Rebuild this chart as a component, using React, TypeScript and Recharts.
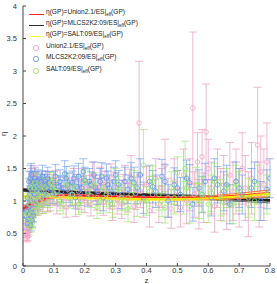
import { ComposedChart, Scatter, Line, XAxis, YAxis, ErrorBar } from 'recharts'

// [z, eta, err]
const union21: number[][] = [
  [0.011, 0.5, 0.06], [0.013, 0.42, 0.05], [0.014, 0.62, 0.07], [0.015, 0.45, 0.06], [0.016, 0.52, 0.07],
  [0.017, 0.75, 0.08], [0.018, 0.6, 0.08], [0.019, 0.55, 0.07], [0.02, 0.7, 0.08], [0.021, 0.82, 0.1],
  [0.022, 0.95, 0.1], [0.023, 1.3, 0.15], [0.024, 1.05, 0.12], [0.025, 1.2, 0.12], [0.026, 0.88, 0.1],
  [0.027, 0.68, 0.08], [0.028, 1.1, 0.12], [0.029, 1.35, 0.15], [0.03, 0.78, 0.1], [0.031, 1.15, 0.13],
  [0.032, 1.0, 0.12], [0.033, 0.85, 0.1], [0.034, 1.25, 0.15], [0.035, 1.05, 0.12], [0.036, 0.92, 0.12],
  [0.037, 1.38, 0.16], [0.038, 1.15, 0.14], [0.039, 0.9, 0.11], [0.04, 0.98, 0.12], [0.042, 1.12, 0.13],
  [0.043, 1.3, 0.15], [0.045, 1.05, 0.14], [0.047, 1.2, 0.14], [0.048, 0.9, 0.12], [0.05, 1.18, 0.14],
  [0.052, 1.28, 0.15], [0.053, 1.0, 0.13], [0.056, 1.22, 0.15], [0.058, 0.98, 0.14], [0.06, 1.1, 0.14],
  [0.063, 0.95, 0.14], [0.066, 1.25, 0.15], [0.068, 1.15, 0.15], [0.07, 1.05, 0.15], [0.075, 1.15, 0.15],
  [0.078, 1.3, 0.16], [0.08, 0.98, 0.15], [0.085, 1.2, 0.16], [0.088, 1.0, 0.15], [0.09, 1.08, 0.15],
  [0.095, 1.25, 0.16], [0.1, 1.12, 0.16], [0.105, 1.3, 0.17], [0.11, 0.95, 0.15], [0.12, 1.2, 0.17],
  [0.125, 1.08, 0.16], [0.13, 1.05, 0.16], [0.14, 0.9, 0.15], [0.145, 1.18, 0.17], [0.15, 1.25, 0.18],
  [0.16, 1.1, 0.17], [0.165, 1.32, 0.18], [0.17, 0.92, 0.16], [0.18, 1.15, 0.18], [0.185, 1.05, 0.18],
  [0.19, 1.3, 0.2], [0.2, 1.0, 0.18], [0.205, 1.2, 0.19], [0.21, 1.12, 0.18], [0.22, 0.95, 0.18],
  [0.225, 1.4, 0.2], [0.23, 1.2, 0.2], [0.24, 1.05, 0.19], [0.245, 1.15, 0.2], [0.25, 1.3, 0.22],
  [0.26, 0.98, 0.2], [0.265, 1.25, 0.21], [0.27, 1.15, 0.2], [0.28, 1.08, 0.2], [0.285, 1.35, 0.22],
  [0.29, 0.9, 0.2], [0.3, 1.22, 0.22], [0.305, 1.02, 0.22], [0.31, 1.1, 0.22], [0.32, 0.95, 0.22],
  [0.325, 1.18, 0.23], [0.33, 1.3, 0.25], [0.34, 1.05, 0.22], [0.345, 1.25, 0.24], [0.35, 1.4, 0.3],
  [0.36, 0.92, 0.25], [0.365, 1.12, 0.25], [0.376, 2.2, 0.95], [0.38, 1.15, 0.25], [0.39, 1.0, 0.25],
  [0.4, 1.25, 0.28], [0.41, 0.85, 0.25], [0.42, 1.1, 0.28], [0.43, 1.35, 0.3], [0.44, 0.95, 0.28],
  [0.45, 1.2, 0.3], [0.46, 1.55, 0.4], [0.47, 1.05, 0.3], [0.48, 0.88, 0.3], [0.49, 1.3, 0.35],
  [0.5, 1.15, 0.32], [0.51, 0.9, 0.3], [0.52, 1.4, 0.4], [0.53, 1.0, 0.35], [0.54, 1.25, 0.4],
  [0.55, 2.43, 1.17], [0.555, 1.1, 0.35], [0.565, 1.6, 0.45], [0.57, 0.95, 0.38], [0.58, 1.68, 0.42],
  [0.585, 1.05, 0.38], [0.593, 2.06, 0.74], [0.6, 1.5, 0.45], [0.61, 1.2, 0.4], [0.62, 0.92, 0.4],
  [0.63, 1.35, 0.45], [0.64, 1.1, 0.4], [0.65, 1.25, 0.45], [0.66, 0.98, 0.42], [0.67, 1.4, 0.5],
  [0.68, 1.15, 0.45], [0.69, 1.3, 0.5], [0.7, 1.05, 0.45], [0.71, 1.5, 0.55], [0.72, 1.2, 0.5],
  [0.73, 0.95, 0.5], [0.74, 1.35, 0.55], [0.76, 1.86, 0.89], [0.765, 1.1, 0.5], [0.77, 1.45, 0.55],
  [0.78, 1.25, 0.55], [0.79, 1.6, 0.6],
]

const mlcs2k2: number[][] = [
  [0.011, 0.85, 0.1], [0.012, 0.75, 0.1], [0.014, 1.05, 0.12], [0.015, 0.65, 0.08], [0.016, 0.72, 0.09],
  [0.018, 0.9, 0.1], [0.019, 1.3, 0.16], [0.02, 1.2, 0.15], [0.021, 0.95, 0.11], [0.022, 0.8, 0.1],
  [0.023, 1.1, 0.14], [0.024, 1.35, 0.2], [0.025, 0.62, 0.08], [0.026, 1.0, 0.12], [0.027, 1.4, 0.18],
  [0.028, 1.15, 0.14], [0.029, 0.88, 0.1], [0.03, 0.7, 0.1], [0.031, 1.18, 0.14], [0.032, 1.28, 0.15],
  [0.033, 0.78, 0.1], [0.034, 1.3, 0.16], [0.035, 1.05, 0.13], [0.037, 1.1, 0.13], [0.038, 1.2, 0.14],
  [0.039, 1.35, 0.16], [0.04, 0.95, 0.12], [0.042, 1.2, 0.14], [0.043, 1.3, 0.15], [0.045, 0.98, 0.12],
  [0.046, 1.12, 0.14], [0.048, 1.32, 0.16], [0.05, 1.22, 0.15], [0.052, 1.15, 0.15], [0.055, 1.05, 0.14],
  [0.058, 1.25, 0.16], [0.06, 1.3, 0.16], [0.063, 1.38, 0.17], [0.065, 1.15, 0.15], [0.068, 1.1, 0.15],
  [0.07, 1.25, 0.16], [0.072, 1.3, 0.16], [0.075, 1.08, 0.15], [0.078, 1.2, 0.16], [0.08, 1.35, 0.17],
  [0.085, 1.28, 0.17], [0.09, 1.18, 0.16], [0.095, 1.12, 0.16], [0.1, 1.28, 0.17], [0.105, 1.38, 0.18],
  [0.11, 1.1, 0.16], [0.115, 1.22, 0.17], [0.12, 1.3, 0.18], [0.125, 1.15, 0.17], [0.13, 1.2, 0.17],
  [0.135, 1.42, 0.2], [0.14, 1.35, 0.18], [0.145, 1.25, 0.18], [0.15, 1.15, 0.17], [0.155, 1.1, 0.18],
  [0.16, 1.28, 0.18], [0.165, 1.35, 0.19], [0.17, 1.05, 0.17], [0.175, 1.22, 0.19], [0.18, 1.38, 0.2],
  [0.185, 1.12, 0.19], [0.19, 1.2, 0.18], [0.195, 1.45, 0.2], [0.2, 1.32, 0.2], [0.21, 1.1, 0.18],
  [0.215, 1.3, 0.2], [0.22, 1.25, 0.2], [0.23, 1.4, 0.2], [0.235, 1.2, 0.2], [0.24, 1.15, 0.2],
  [0.25, 1.3, 0.2], [0.255, 1.38, 0.21], [0.26, 1.05, 0.2], [0.27, 1.35, 0.22], [0.275, 1.25, 0.21],
  [0.28, 1.2, 0.2], [0.29, 1.12, 0.2], [0.295, 1.3, 0.22], [0.3, 1.4, 0.22], [0.31, 1.25, 0.22],
  [0.32, 1.1, 0.22], [0.33, 1.3, 0.22], [0.34, 1.18, 0.22], [0.35, 1.35, 0.24], [0.36, 1.28, 0.24],
  [0.37, 1.2, 0.24], [0.38, 1.4, 0.25], [0.39, 1.05, 0.24], [0.41, 1.3, 0.25], [0.42, 1.22, 0.25],
  [0.43, 1.15, 0.25], [0.45, 1.38, 0.26], [0.46, 1.3, 0.26], [0.47, 1.0, 0.25], [0.49, 1.25, 0.26],
  [0.5, 1.2, 0.27], [0.51, 1.1, 0.26], [0.53, 1.35, 0.28], [0.54, 1.28, 0.28], [0.55, 0.95, 0.26],
  [0.57, 1.2, 0.28], [0.58, 1.1, 0.28], [0.59, 1.3, 0.28], [0.61, 1.05, 0.28], [0.62, 1.35, 0.3],
  [0.63, 1.25, 0.28], [0.65, 1.15, 0.3], [0.66, 1.25, 0.3], [0.67, 0.95, 0.3], [0.69, 1.3, 0.3],
  [0.7, 1.2, 0.3], [0.71, 1.1, 0.3], [0.74, 1.2, 0.3], [0.75, 1.3, 0.3], [0.77, 1.0, 0.3],
  [0.79, 1.18, 0.3], [0.8, 1.35, 0.3],
]

const salt09: number[][] = [
  [0.012, 0.8, 0.1], [0.015, 0.7, 0.1], [0.018, 1.05, 0.12], [0.02, 0.95, 0.12], [0.022, 0.75, 0.1],
  [0.024, 1.2, 0.14], [0.025, 0.6, 0.08], [0.028, 1.1, 0.13], [0.03, 0.65, 0.08], [0.032, 0.85, 0.1],
  [0.034, 1.0, 0.12], [0.036, 1.2, 0.14], [0.038, 1.28, 0.15], [0.04, 1.0, 0.12], [0.042, 0.9, 0.12],
  [0.045, 1.15, 0.14], [0.048, 1.1, 0.13], [0.05, 0.92, 0.12], [0.052, 1.0, 0.13], [0.055, 1.25, 0.15],
  [0.058, 1.15, 0.14], [0.06, 1.05, 0.14], [0.065, 0.95, 0.14], [0.07, 1.2, 0.15], [0.075, 1.1, 0.15],
  [0.08, 0.98, 0.14], [0.085, 1.05, 0.15], [0.09, 1.28, 0.16], [0.095, 1.2, 0.15], [0.1, 1.1, 0.15],
  [0.11, 1.15, 0.16], [0.12, 1.0, 0.15], [0.13, 0.95, 0.15], [0.14, 1.25, 0.17], [0.15, 1.05, 0.16],
  [0.16, 1.1, 0.16], [0.17, 1.2, 0.17], [0.18, 0.95, 0.16], [0.19, 1.0, 0.17], [0.2, 1.3, 0.18],
  [0.21, 1.15, 0.18], [0.22, 1.08, 0.18], [0.23, 1.25, 0.19], [0.24, 0.9, 0.17], [0.25, 1.0, 0.19],
  [0.26, 1.2, 0.19], [0.27, 1.1, 0.19], [0.28, 1.0, 0.18], [0.29, 0.95, 0.2], [0.3, 1.3, 0.2],
  [0.31, 1.18, 0.2], [0.32, 1.05, 0.2], [0.33, 1.0, 0.21], [0.34, 0.88, 0.2], [0.35, 1.1, 0.22],
  [0.36, 1.25, 0.22], [0.37, 0.98, 0.22], [0.39, 1.55, 0.55], [0.4, 1.0, 0.22], [0.41, 1.15, 0.23],
  [0.42, 1.3, 0.24], [0.44, 1.1, 0.24], [0.45, 1.0, 0.24], [0.46, 0.9, 0.24], [0.48, 1.2, 0.25],
  [0.49, 1.05, 0.25], [0.5, 1.43, 0.25], [0.52, 1.05, 0.25], [0.525, 1.5, 0.42], [0.53, 1.2, 0.26],
  [0.54, 0.92, 0.26], [0.56, 1.25, 0.27], [0.57, 1.0, 0.27], [0.58, 1.1, 0.27], [0.6, 0.95, 0.28],
  [0.61, 1.12, 0.28], [0.62, 1.3, 0.28], [0.64, 1.05, 0.28], [0.65, 0.98, 0.29], [0.66, 1.2, 0.3],
  [0.68, 0.95, 0.3], [0.69, 1.25, 0.3], [0.7, 1.15, 0.3], [0.73, 1.05, 0.3], [0.75, 1.0, 0.3],
  [0.76, 1.25, 0.3], [0.79, 1.1, 0.3],
]

// GP reconstructions, sampled at curveZ
const curveZ = [0, 0.02, 0.04, 0.06, 0.08, 0.1, 0.15, 0.2, 0.3, 0.4, 0.5, 0.6, 0.7, 0.8]
const redMid = [0.88, 0.93, 0.98, 1.02, 1.05, 1.07, 1.08, 1.075, 1.06, 1.05, 1.04, 1.05, 1.08, 1.12]
const redHi = [0.92, 0.96, 1.01, 1.05, 1.08, 1.09, 1.1, 1.095, 1.08, 1.07, 1.065, 1.08, 1.12, 1.17]
const redLo = [0.84, 0.9, 0.95, 0.99, 1.02, 1.05, 1.06, 1.055, 1.04, 1.03, 1.02, 1.02, 1.04, 1.07]
const blackMid = [1.17, 1.165, 1.16, 1.155, 1.15, 1.145, 1.135, 1.125, 1.105, 1.09, 1.07, 1.05, 1.03, 1.01]
const blackHi = [1.19, 1.185, 1.18, 1.175, 1.17, 1.165, 1.155, 1.145, 1.13, 1.115, 1.1, 1.08, 1.065, 1.05]
const blackLo = [1.15, 1.145, 1.14, 1.135, 1.13, 1.125, 1.115, 1.105, 1.08, 1.065, 1.04, 1.02, 0.995, 0.97]
const yellowMid = [1.07, 1.07, 1.07, 1.07, 1.068, 1.065, 1.058, 1.05, 1.04, 1.03, 1.03, 1.04, 1.07, 1.11]
const yellowHi = [1.11, 1.11, 1.105, 1.1, 1.095, 1.09, 1.08, 1.07, 1.06, 1.05, 1.05, 1.065, 1.1, 1.15]
const yellowLo = [1.03, 1.03, 1.035, 1.04, 1.04, 1.04, 1.035, 1.03, 1.02, 1.01, 1.01, 1.015, 1.04, 1.07]

const xTicks = [0, 0.1, 0.2, 0.3, 0.4, 0.5, 0.6, 0.7, 0.8]
const yTicks = [0, 0.5, 1, 1.5, 2, 2.5, 3, 3.5, 4]

const pts = (rows: number[][]) => rows.map(([z, eta, err]) => ({ z, eta, err }))
const curve = (ys: number[]) => curveZ.map((z, i) => ({ z, eta: ys[i] }))

const PINK = '#f0a6c6'
const BLUE = '#5c95f2'
const GREEN = '#98e866'
const FONT = 'Liberation Sans, Arial, sans-serif'

const ring = (color: string) => (p: any) => (
  <circle cx={p.cx} cy={p.cy} r={2.3} fill="none" stroke={color} strokeWidth={0.8} />
)

const tickStyle = { fontSize: 7.5, fill: '#333', fontFamily: FONT }

const legendRows = [
  { kind: 'line', color: '#ff2020', name: 'Union2.1', prefix: 'η(GP)=' },
  { kind: 'line', color: '#333', name: 'MLCS2K2:09', prefix: 'η(GP)=' },
  { kind: 'line', color: '#ffff30', name: 'SALT:09', prefix: 'η(GP)=' },
  { kind: 'dot', color: PINK, name: 'Union2.1', prefix: '' },
  { kind: 'dot', color: BLUE, name: 'MLCS2K2:09', prefix: '' },
  { kind: 'dot', color: GREEN, name: 'SALT:09', prefix: '' },
]
const legendY = [14, 25, 36, 48, 59, 71]

export default function App() {
  return (
    <div style={{ position: 'absolute', left: 0, top: 0, width: 277, height: 284, background: '#fff' }}>
      <ComposedChart width={277} height={284} margin={{ top: 6, right: 7, bottom: 0, left: 0 }}>
        <XAxis
          xAxisId="b" type="number" dataKey="z" domain={[0, 0.8]} ticks={xTicks} allowDataOverflow
          tickSize={-3} tickMargin={5} height={18} stroke="#444" tick={tickStyle}
          label={{ value: 'z', position: 'insideBottom', offset: 1, style: { fontSize: 8, fill: '#333', fontFamily: FONT } }}
        />
        <XAxis
          xAxisId="t" orientation="top" type="number" dataKey="z" domain={[0, 0.8]} ticks={xTicks}
          allowDataOverflow tickSize={-3} height={0} stroke="#444" tickFormatter={() => ''}
        />
        <YAxis
          yAxisId="l" type="number" dataKey="eta" domain={[0, 4]} ticks={yTicks} allowDataOverflow
          tickSize={-3} tickMargin={9} width={23} stroke="#444" tick={tickStyle}
          label={{ value: 'η', angle: -90, position: 'insideLeft', offset: 3, style: { fontSize: 8, fill: '#333', fontFamily: FONT } }}
        />
        <YAxis
          yAxisId="r" orientation="right" type="number" dataKey="eta" domain={[0, 4]} ticks={yTicks}
          allowDataOverflow tickSize={-3} width={0} stroke="#444" tickFormatter={() => ''}
        />

        <Scatter xAxisId="b" yAxisId="l" data={pts(union21)} shape={ring(PINK)} isAnimationActive={false}>
          <ErrorBar dataKey="err" direction="y" width={4} stroke={PINK} strokeWidth={0.8} isAnimationActive={false} />
        </Scatter>
        <Scatter xAxisId="b" yAxisId="l" data={pts(mlcs2k2)} shape={ring(BLUE)} isAnimationActive={false}>
          <ErrorBar dataKey="err" direction="y" width={4} stroke={BLUE} strokeWidth={0.8} strokeOpacity={0.75} isAnimationActive={false} />
        </Scatter>
        <Scatter xAxisId="b" yAxisId="l" data={pts(salt09)} shape={ring(GREEN)} isAnimationActive={false}>
          <ErrorBar dataKey="err" direction="y" width={4} stroke={GREEN} strokeWidth={0.8} strokeOpacity={0.8} isAnimationActive={false} />
        </Scatter>

        <Line xAxisId="b" yAxisId="l" data={curve(blackHi)} dataKey="eta" type="monotone" stroke="#666" strokeWidth={1} dot={false} isAnimationActive={false} />
        <Line xAxisId="b" yAxisId="l" data={curve(blackLo)} dataKey="eta" type="monotone" stroke="#666" strokeWidth={1} dot={false} isAnimationActive={false} />
        <Line xAxisId="b" yAxisId="l" data={curve(blackMid)} dataKey="eta" type="monotone" stroke="#222" strokeWidth={2.8} dot={false} isAnimationActive={false} />
        <Line xAxisId="b" yAxisId="l" data={curve(yellowHi)} dataKey="eta" type="monotone" stroke="#fff25a" strokeWidth={1} dot={false} isAnimationActive={false} />
        <Line xAxisId="b" yAxisId="l" data={curve(yellowLo)} dataKey="eta" type="monotone" stroke="#fff25a" strokeWidth={1} dot={false} isAnimationActive={false} />
        <Line xAxisId="b" yAxisId="l" data={curve(redHi)} dataKey="eta" type="monotone" stroke="#ff6a3a" strokeWidth={1} dot={false} isAnimationActive={false} />
        <Line xAxisId="b" yAxisId="l" data={curve(redLo)} dataKey="eta" type="monotone" stroke="#ff6a3a" strokeWidth={1} dot={false} isAnimationActive={false} />
        <Line xAxisId="b" yAxisId="l" data={curve(redMid)} dataKey="eta" type="monotone" stroke="#ff1a1a" strokeWidth={2.6} dot={false} isAnimationActive={false} />
        <Line xAxisId="b" yAxisId="l" data={curve(yellowMid)} dataKey="eta" type="monotone" stroke="#ffe600" strokeWidth={2.2} dot={false} isAnimationActive={false} />
      </ComposedChart>

      {legendRows.map((r, i) => (
        <div
          key={i}
          style={{
            position: 'absolute', left: 28, top: legendY[i] - 5, height: 10, display: 'flex', alignItems: 'center',
            fontFamily: FONT, fontSize: 6.6, color: '#222', whiteSpace: 'nowrap', lineHeight: '10px',
          }}
        >
          <span style={{ width: 16, display: 'inline-flex', justifyContent: 'center' }}>
            {r.kind === 'line' ? (
              <span style={{ width: 15, height: 0, borderTop: `1.2px solid ${r.color}` }} />
            ) : (
              <span style={{ width: 3.5, height: 3.5, borderRadius: '50%', border: `0.8px solid ${r.color}` }} />
            )}
          </span>
          <span style={{ marginLeft: 2 }}>
            {r.prefix}{r.name}/ES|<sub style={{ fontSize: 4.5 }}>eff</sub>(GP)
          </span>
        </div>
      ))}
    </div>
  )
}
